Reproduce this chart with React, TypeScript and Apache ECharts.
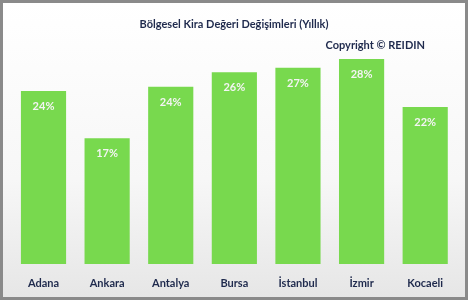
import React, { useEffect, useRef } from "react";
import * as echarts from "echarts";

const categories = ["Adana", "Ankara", "Antalya", "Bursa", "İstanbul", "İzmir", "Kocaeli"];
const values = [23.8, 17.3, 24.4, 26.4, 27.0, 28.2, 21.6];
const titleText = "Bölgesel Kira Değeri Değişimleri (Yıllık)";
const copyrightText = "Copyright © REIDIN";

const FONT = "Lato";
const NAVY = "#1f2a4d";

export default function App() {
  const ref = useRef<HTMLDivElement>(null);
  useEffect(() => {
    if (!ref.current) return;
    const chart = echarts.init(ref.current, null, { renderer: "svg" });
    chart.setOption({
      animation: false,
      backgroundColor: "transparent",
      graphic: [
        {
          type: "rect",
          z: -10,
          silent: true,
          shape: { x: 1.5, y: 1.5, width: 465, height: 297 },
          style: {
            fill: new echarts.graphic.LinearGradient(0, 0, 0, 1, [
              { offset: 0, color: "#ffffff" },
              { offset: 0.6, color: "#f7f7f7" },
              { offset: 1, color: "#e6e6e6" },
            ]),
            stroke: "#8a8a8a",
            lineWidth: 3,
          },
        },
        {
          type: "text",
          x: 425,
          y: 44,
          style: {
            text: copyrightText,
            fill: NAVY,
            font: `bold 11px ${FONT}`,
            textAlign: "right",
            textVerticalAlign: "middle",
          },
        },
      ],
      title: {
        text: titleText,
        left: "center",
        top: 13,
        textStyle: { color: NAVY, fontFamily: FONT, fontSize: 11, fontWeight: "bold" },
      },
      grid: { left: 11.7, right: 11, top: 46, bottom: 36, containLabel: false },
      xAxis: {
        type: "category",
        data: categories,
        axisLine: { show: false },
        axisTick: { show: false },
        axisLabel: { color: NAVY, fontFamily: FONT, fontSize: 11, fontWeight: "bold", margin: 13 },
      },
      yAxis: {
        type: "value",
        min: 0,
        max: 30,
        show: false,
        splitLine: { show: false },
      },
      series: [
        {
          type: "bar",
          data: values,
          barCategoryGap: "29%",
          itemStyle: { color: "#78d94e" },
          label: {
            show: true,
            position: "insideTop",
            distance: 9,
            color: "#f4f4f4",
            fontFamily: FONT,
            fontSize: 11,
            fontWeight: "bold",
            formatter: (p: any) => `${Math.round(p.value)}%`,
          },
        },
      ],
    });
    return () => chart.dispose();
  }, []);
  return <div ref={ref} style={{ position: "fixed", left: 0, top: 0, width: 468, height: 300 }} />;
}
